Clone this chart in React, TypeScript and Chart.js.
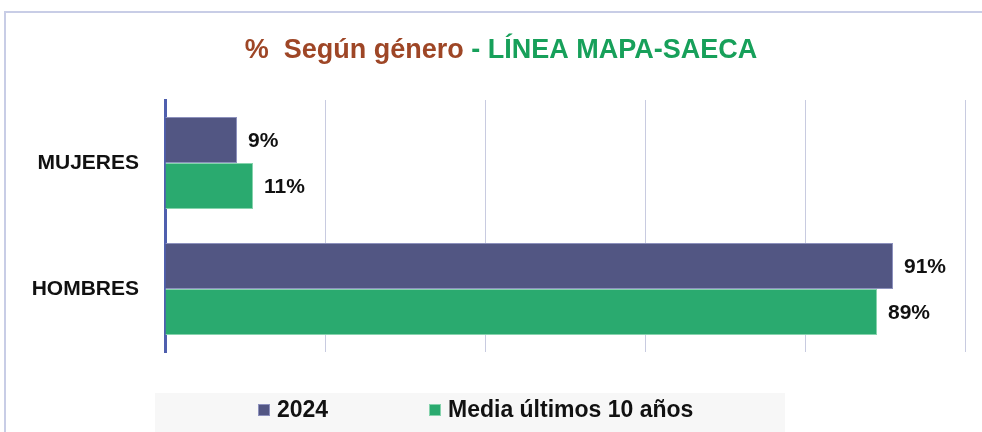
import React, { useEffect, useRef } from "react";
import { Chart, registerables } from "chart.js";

Chart.register(...registerables);

const categories = ["MUJERES", "HOMBRES"];
const seriesLabels = ["2024", "Media últimos 10 años"];
const values2024 = [9, 91];
const valuesMedia = [11, 89];
const titleParts = ["%  Según género", " - LÍNEA MAPA-SAECA"];

const COL_2024 = "#525683";
const COL_2024_BORDER = "#8d91bd";
const COL_MEDIA = "#2aaa6f";
const COL_MEDIA_BORDER = "#86d3ad";
const FONT = "'Liberation Sans', Arial, sans-serif";

const decorPlugin = {
  id: "decor",
  beforeDraw(chart: any) {
    const ctx = chart.ctx;
    ctx.save();
    // frame
    ctx.strokeStyle = "#c8cde6";
    ctx.lineWidth = 2;
    ctx.beginPath();
    ctx.moveTo(5, 432);
    ctx.lineTo(5, 12);
    ctx.lineTo(982, 12);
    ctx.stroke();
    // legend background
    ctx.fillStyle = "#f7f7f7";
    ctx.fillRect(155, 393, 630, 39);
    ctx.restore();
  },
  afterDraw(chart: any) {
    const ctx = chart.ctx;
    ctx.save();
    // title
    ctx.font = `bold 27px ${FONT}`;
    ctx.textBaseline = "middle";
    const w1 = ctx.measureText(titleParts[0]).width;
    const w2 = ctx.measureText(titleParts[1]).width;
    const cx = 501;
    let x = cx - (w1 + w2) / 2;
    ctx.textAlign = "left";
    ctx.fillStyle = "#9e4626";
    ctx.fillText(titleParts[0], x, 51);
    ctx.fillStyle = "#17a05a";
    ctx.fillText(titleParts[1], x + w1, 51);

    // legend
    const items = chart.data.datasets.map((d: any) => ({
      label: d.label,
      fill: d.backgroundColor,
      border: d.borderColor,
    }));
    const starts = [258, 429];
    ctx.font = `bold 23px ${FONT}`;
    items.forEach((it: any, i: number) => {
      const bx = starts[i];
      ctx.fillStyle = it.fill;
      ctx.fillRect(bx, 404, 12, 12);
      ctx.strokeStyle = it.border;
      ctx.lineWidth = 1;
      ctx.strokeRect(bx + 0.5, 404.5, 11, 11);
      ctx.fillStyle = "#111111";
      ctx.textAlign = "left";
      ctx.textBaseline = "middle";
      ctx.fillText(it.label, bx + 19, 411);
    });
    ctx.restore();
  },
  afterDatasetsDraw(chart: any) {
    const ctx = chart.ctx;
    ctx.save();
    ctx.font = `bold 21px ${FONT}`;
    ctx.fillStyle = "#111111";
    ctx.textAlign = "left";
    ctx.textBaseline = "middle";
    chart.data.datasets.forEach((ds: any, di: number) => {
      const meta = chart.getDatasetMeta(di);
      meta.data.forEach((bar: any, i: number) => {
        ctx.fillText(ds.data[i] + "%", bar.x + 11, bar.y + 1);
      });
    });
    ctx.restore();
  },
};

export default function App() {
  const ref = useRef<HTMLCanvasElement>(null);
  useEffect(() => {
    if (!ref.current) return;
    const chart = new Chart(ref.current, {
      type: "bar",
      data: {
        labels: categories,
        datasets: [
          {
            label: seriesLabels[0],
            data: values2024,
            backgroundColor: COL_2024,
            borderColor: COL_2024_BORDER,
            borderWidth: 1,
            categoryPercentage: 0.73,
            barPercentage: 1,
          },
          {
            label: seriesLabels[1],
            data: valuesMedia,
            backgroundColor: COL_MEDIA,
            borderColor: COL_MEDIA_BORDER,
            borderWidth: 1,
            categoryPercentage: 0.73,
            barPercentage: 1,
          },
        ],
      },
      options: {
        indexAxis: "y",
        animation: false,
        responsive: true,
        maintainAspectRatio: false,
        layout: { padding: { top: 100, bottom: 80, left: 0, right: 17 } },
        plugins: {
          legend: { display: false },
          title: { display: false },
          tooltip: { enabled: false },
        },
        scales: {
          x: {
            min: 0,
            max: 100,
            ticks: { display: false, stepSize: 20 },
            grid: { color: "#c8cbe0", lineWidth: 1, drawTicks: false },
            border: { display: false },
          },
          y: {
            afterFit: (s: any) => {
              s.width = 165;
            },
            ticks: {
              color: "#111111",
              font: { family: FONT, size: 21, weight: "bold" },
              padding: 26,
            },
            grid: { display: false, drawTicks: false },
            border: { display: true, color: "#4f5fae", width: 3 },
          },
        },
      },
      plugins: [decorPlugin],
    });
    return () => chart.destroy();
  }, []);
  return (
    <div style={{ position: "fixed", left: 0, top: 0, width: 982, height: 432, background: "#ffffff" }}>
      <canvas ref={ref} />
    </div>
  );
}
